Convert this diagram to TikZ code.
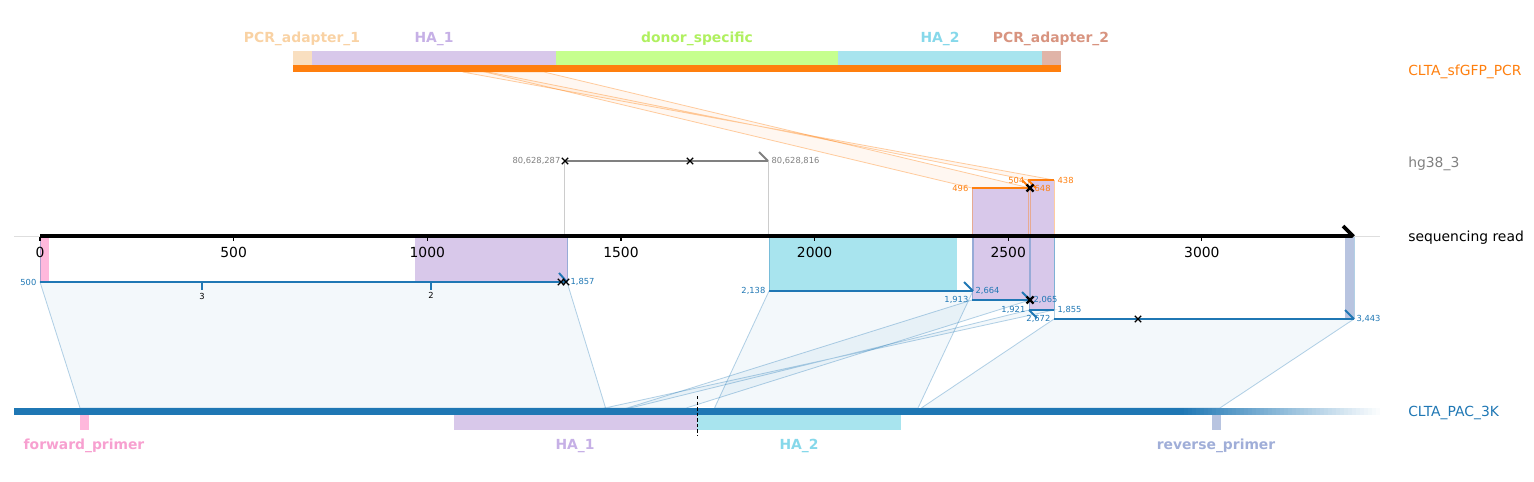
\documentclass[tikz,border=0pt]{standalone}
\usepackage{fontspec}
\setmainfont{DejaVu Sans}
\definecolor{tabblue}{HTML}{1F77B4}
\definecolor{taborange}{HTML}{FF7F0E}
\definecolor{midgray}{HTML}{808080}
\definecolor{pcra}{HTML}{F9DFC0}
\definecolor{pcral}{HTML}{F9D2A4}
\definecolor{haone}{HTML}{D8C8EA}
\definecolor{haonel}{HTML}{C6B0E6}
\definecolor{donor}{HTML}{C6FF8E}
\definecolor{donorl}{HTML}{B0F060}
\definecolor{hatwo}{HTML}{A8E4EE}
\definecolor{hatwol}{HTML}{86D8EA}
\definecolor{pcrb}{HTML}{E0B4A8}
\definecolor{pcrbl}{HTML}{D89480}
\definecolor{fwd}{HTML}{FFB8DC}
\definecolor{fwdl}{HTML}{F7A0D0}
\definecolor{revp}{HTML}{B8C4E0}
\definecolor{revpl}{HTML}{A0AED8}
\tikzset{
  flab/.style={font=\fontsize{10}{12}\selectfont\bfseries, inner sep=0pt, yshift=-1.2pt},
  tracklab/.style={font=\fontsize{10}{12}\selectfont, anchor=west, inner sep=0pt, yshift=-1.2pt},
  ticklab/.style={font=\fontsize{10}{12}\selectfont, inner sep=0pt, yshift=-0.6pt},
  small/.style={font=\fontsize{6}{7}\selectfont, inner sep=1pt},
  bpoly/.style={fill=tabblue, fill opacity=0.055, draw=tabblue, draw opacity=0.33, line width=0.6pt},
  opoly/.style={fill=taborange, fill opacity=0.06, draw=taborange, draw opacity=0.38, line width=0.6pt},
  bedge/.style={draw=tabblue, draw opacity=0.35, line width=0.6pt},
  oedge/.style={draw=taborange, draw opacity=0.4, line width=0.6pt},
  bline/.style={draw=tabblue, line width=1.4pt},
  oline/.style={draw=taborange, line width=1.4pt},
  gline/.style={draw=midgray, line width=1.4pt},
  xm/.pic={\draw[black, line width=0.9pt] (-3.2,-3.2) -- (3.2,3.2) (-3.2,3.2) -- (3.2,-3.2);},
  xmb/.pic={\draw[black, line width=1.6pt] (-3.5,-3.5) -- (3.5,3.5) (-3.5,3.5) -- (3.5,-3.5);}
}
\begin{document}
\begin{tikzpicture}[x=0.72pt,y=-0.72pt]
\useasboundingbox (0,0) rectangle (1534,481);

% ---------- connection polygons ----------
\draw[opoly] (972,188) -- (1030,188) -- (544,72) -- (485,72) -- cycle;
\draw[opoly] (1028,180) -- (1054,180) -- (462.6,72) -- (488.2,72) -- cycle;
\draw[bpoly] (40,282) -- (567,282) -- (605.6,408) -- (80,408) -- cycle;
\draw[bpoly] (769,291) -- (973,291) -- (918,408) -- (714.5,408) -- cycle;
\draw[bpoly] (972,300) -- (1030,300) -- (686.2,408) -- (627.3,408) -- cycle;
\draw[bpoly] (1029,310) -- (1054,310) -- (604.8,408) -- (630.4,408) -- cycle;
\draw[bpoly] (1054,319) -- (1354,319) -- (1219.9,408) -- (921.3,408) -- cycle;

% ---------- top reference CLTA_sfGFP_PCR ----------
\fill[pcra] (293,51) rectangle (312,65);
\fill[haone] (312,51) rectangle (556,65);
\fill[donor] (556,51) rectangle (838,65);
\fill[hatwo] (838,51) rectangle (1042,65);
\fill[pcrb] (1042,51) rectangle (1061,65);
\fill[taborange] (293,65) rectangle (1061,72);
\node[flab, text=pcral] (tPA1) at (302,37) {PCR\_adapter\_1};
\node[flab, text=haonel] (tHA1) at (434,37) {HA\_1};
\node[flab, text=donorl] (tDS) at (697,37) {donor\_specific};
\node[flab, text=hatwol] (tHA2) at (940,37) {HA\_2};
\node[flab, text=pcrbl] (tPA2) at (1051,37) {PCR\_adapter\_2};

% ---------- regions on the read ----------
\fill[haone] (972,188) rectangle (1030,236);
\fill[haone] (1030,180) rectangle (1054,236);
\fill[fwd] (40,236) rectangle (49,282);
\fill[haone] (415,236) rectangle (568,282);
\fill[hatwo] (769,236) rectangle (957,291);
\fill[haone] (972,236) rectangle (1030,300);
\fill[haone] (1029,236) rectangle (1054,310);
\fill[revp] (1345,236) rectangle (1354,319);

% vertical edges of alignments
\draw[oedge] (972,188) -- (972,236) (1030,188) -- (1030,236);
\draw[oedge] (1028,180) -- (1028,236) (1054,180) -- (1054,236);
\draw[bedge] (40,236) -- (40,282) (567,236) -- (567,282);
\draw[bedge] (769,236) -- (769,291) (973,236) -- (973,291);
\draw[bedge] (972,236) -- (972,300) (1030,236) -- (1030,300);
\draw[bedge] (1029,236) -- (1029,310) (1054,236) -- (1054,310);
\draw[bedge] (1054,236) -- (1054,319) (1354,236) -- (1354,319);
\draw[black!20, line width=0.6pt] (564,161) -- (564,236) (768,161) -- (768,236);

% ---------- sequencing read axis ----------
\draw[black!13, line width=0.6pt] (14,236) -- (1380,236);
\coordinate (rs) at (40,236);
\coordinate (re) at (1352,236);
\draw[black, line width=2.6pt] (rs) -- (re);
\draw[black, line width=2.6pt] (1343,226) -- (1353.5,236.5);
\foreach \p [count=\i] in {0,500,1000,1500,2000,2500,3000} {
  \pgfmathsetmacro\xx{40+0.3873*\p}
  \draw[black, line width=0.8pt] (\xx,237) -- (\xx,241);
  \node[ticklab] (tk\i) at (\xx,252) {\p};
}

% ---------- hg38_3 ----------
\coordinate (g1) at (564,161);
\coordinate (g2) at (768,161);
\draw[gline] (g1) -- (g2);
\draw[gline] (759,152) -- (g2);
\pic at (565,161) {xm};
\pic at (690,161) {xm};
\node[small, anchor=east, text=midgray] (gl1) at (562,161) {80,628,287};
\node[small, anchor=west, text=midgray] (gl2) at (770,161) {80,628,816};

% ---------- orange alignments ----------
\coordinate (o1a) at (972,188); \coordinate (o1b) at (1030,188);
\coordinate (o2a) at (1028,180); \coordinate (o2b) at (1054,180);
\draw[oline] (o1a) -- (o1b);
\draw[oline] (o2a) -- (o2b);
\draw[oline] (1022,180) -- (o1b);
\draw[oline] (o2a) -- (1036,188);
\pic at (1030,188) {xmb};
\node[small, anchor=east, text=taborange] (ol1) at (970,188) {496};
\node[small, anchor=west, text=taborange] (ol2) at (1033,188) {648};
\node[small, anchor=east, text=taborange] (ol3) at (1026,180) {504};
\node[small, anchor=west, text=taborange] (ol4) at (1056,180) {438};

% ---------- blue alignments ----------
\coordinate (b1a) at (40,282); \coordinate (b1b) at (567,282);
\coordinate (b2a) at (769,291); \coordinate (b2b) at (973,291);
\coordinate (b3a) at (972,300); \coordinate (b3b) at (1030,300);
\coordinate (b4a) at (1029,310); \coordinate (b4b) at (1054,310);
\coordinate (b5a) at (1054,319); \coordinate (b5b) at (1354,319);
\draw[bline] (b1a) -- (b1b);
\draw[bline] (b2a) -- (b2b);
\draw[bline] (b3a) -- (b3b);
\draw[bline] (b4a) -- (b4b);
\draw[bline] (b5a) -- (b5b);
\draw[bline] (559,273) -- (b1b);
\draw[bline] (964,282) -- (b2b);
\draw[bline] (1022,292) -- (b3b);
\draw[bline] (b4a) -- (1037,318);
\draw[bline] (1345,310) -- (b5b);
\draw[tabblue, line width=1.6pt] (202,282) -- (202,290);
\draw[tabblue, line width=1.6pt] (431,282) -- (431,290);
\node[small, text=black] (ins3) at (202,296) {3};
\node[small, text=black] (ins2) at (431,295) {2};
\pic at (561,282) {xm};
\pic at (566,282) {xm};
\pic at (1030,300) {xmb};
\pic at (1138,319) {xm};
\node[small, anchor=east, text=tabblue] (bl1) at (38,282) {500};
\node[small, anchor=west, text=tabblue] (bl2) at (569,282) {1,857};
\node[small, anchor=east, text=tabblue] (bl3) at (767,291) {2,138};
\node[small, anchor=west, text=tabblue] (bl4) at (974,291) {2,664};
\node[small, anchor=east, text=tabblue] (bl5) at (970,300) {1,913};
\node[small, anchor=west, text=tabblue] (bl6) at (1032,300) {2,065};
\node[small, anchor=east, text=tabblue] (bl7) at (1027,310) {1,921};
\node[small, anchor=west, text=tabblue] (bl8) at (1056,310) {1,855};
\node[small, anchor=east, text=tabblue] (bl9) at (1052,319) {2,672};
\node[small, anchor=west, text=tabblue] (bl10) at (1355,319) {3,443};

% ---------- bottom reference CLTA_PAC_3K ----------
\fill[tabblue] (14,408) rectangle (1181,415);
\foreach \k in {0,...,49} {
  \pgfmathsetmacro\pct{100-2*\k}
  \pgfmathsetmacro\xa{1180+4*\k}
  \pgfmathsetmacro\xb{1180+4*\k+4.3}
  \fill[tabblue!\pct!white] (\xa,408) rectangle (\xb,415);
}
\fill[fwd] (80,415) rectangle (89,430);
\fill[haone] (454,415) rectangle (697,430);
\fill[hatwo] (697,415) rectangle (901,430);
\fill[revp] (1212,415) rectangle (1221,430);
\draw[black, line width=0.6pt, dash pattern=on 2.5pt off 1.5pt] (697,396) -- (697,435);
\node[flab, text=fwdl] (bFP) at (84,444) {forward\_primer};
\node[flab, text=haonel] (bHA1) at (575,444) {HA\_1};
\node[flab, text=hatwol] (bHA2) at (799,444) {HA\_2};
\node[flab, text=revpl] (bRP) at (1216,444) {reverse\_primer};

% ---------- track labels ----------
\node[tracklab, text=taborange] (lab1) at (1408,70) {CLTA\_sfGFP\_PCR};
\node[tracklab, text=midgray] (lab2) at (1408,162) {hg38\_3};
\node[tracklab, text=black] (lab3) at (1408,236) {sequencing read};
\node[tracklab, text=tabblue] (lab4) at (1408,411) {CLTA\_PAC\_3K};
\end{tikzpicture}
\end{document}
